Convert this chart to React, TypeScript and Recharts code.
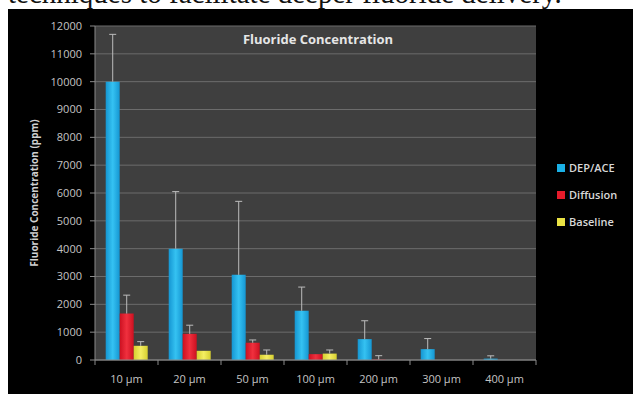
import React from 'react';
import { BarChart, Bar, XAxis, YAxis, CartesianGrid, ErrorBar, Legend } from 'recharts';

const categories = ['10 µm', '20 µm', '50 µm', '100 µm', '200 µm', '300 µm', '400 µm'];
const depAce = [10000, 4000, 3060, 1770, 750, 390, 50];
const depAceErr = [1700, 2050, 2640, 850, 660, 380, 100];
const diffusion = [1670, 940, 620, 210, 15, 0, 0];
const diffusionErr = [660, 310, 100, null, 140, null, null];
const baseline = [510, 330, 190, 230, 0, 0, 0];
const baselineErr = [150, null, 170, 130, null, null, null];
const yTicks = [0, 1000, 2000, 3000, 4000, 5000, 6000, 7000, 8000, 9000, 10000, 11000, 12000];

const seriesNames = ['DEP/ACE', 'Diffusion', 'Baseline'];
const seriesColors = ['#1ab0e6', '#e41b2b', '#e9e244'];

const data = categories.map((c, i) => ({
  name: c,
  dep: depAce[i],
  depErr: depAceErr[i] == null ? null : [0, depAceErr[i]],
  dif: diffusion[i],
  difErr: diffusionErr[i] == null ? null : [0, diffusionErr[i]],
  base: baseline[i],
  baseErr: baselineErr[i] == null ? null : [0, baselineErr[i]],
}));

const FONT = '"Open Sans", "Liberation Sans", sans-serif';

const XTick = (props: any) => {
  const { x, y, payload, index, visibleTicksCount } = props;
  const half = payload && payload.offset ? payload.offset : 31.5;
  const last = index === visibleTicksCount - 1;
  return (
    <g>
      <line x1={x - half} y1={y} x2={x - half} y2={y + 5} stroke="#8a8a8a" strokeWidth={1} />
      {last && <line x1={x + half} y1={y} x2={x + half} y2={y + 5} stroke="#8a8a8a" strokeWidth={1} />}
      <text x={x} y={y + 23} textAnchor="middle" fill="#c4c4c4" fontSize={11} fontFamily={FONT}>
        {payload.value}
      </text>
    </g>
  );
};

const LegendContent = () => (
  <div style={{ fontFamily: FONT }}>
    {seriesNames.map((n, i) => (
      <div key={n} style={{ display: 'flex', alignItems: 'center', height: 27 }}>
        <span style={{ width: 8, height: 8, background: seriesColors[i], display: 'inline-block', marginRight: 4 }} />
        <span style={{ color: '#d8d8d8', fontSize: 11, fontWeight: 600 }}>{n}</span>
      </div>
    ))}
  </div>
);

const YLabel = (props: any) => {
  const vb = props.viewBox || { x: 0, y: 17, width: 87, height: 334 };
  const cx = 26;
  const cy = vb.y + vb.height / 2;
  return (
    <text
      x={cx}
      y={cy}
      transform={`rotate(-90, ${cx}, ${cy})`}
      textAnchor="middle"
      dominantBaseline="central"
      fill="#d0d0d0"
      fontSize={10}
      fontWeight={700}
      fontFamily={FONT}
    >
      Fluoride Concentration (ppm)
    </text>
  );
};

export default function App() {
  return (
    <div style={{ position: 'absolute', left: 0, top: 0, width: 633, height: 394, overflow: 'hidden', background: '#fff' }}>
      <style>{`.recharts-errorBar > :nth-child(3){display:none}`}</style>
      <div
        style={{
          position: 'absolute',
          left: 8,
          top: -21,
          fontFamily: '"Liberation Serif", "Times New Roman", serif',
          fontSize: 29,
          lineHeight: '29px',
          whiteSpace: 'nowrap',
          color: '#111',
        }}
      >
        techniques to facilitate deeper fluoride delivery.
      </div>
      <div style={{ position: 'absolute', left: 8, top: 9, width: 625, height: 385, background: '#000' }}>
        <BarChart
          width={625}
          height={385}
          data={data}
          margin={{ top: 17, right: 97, bottom: 4, left: 0 }}
          barCategoryGap="17%"
          barGap={0}
        >
          <defs>
            <linearGradient id="gBlue" x1="0" y1="0" x2="1" y2="0">
              <stop offset="0%" stopColor="#1596d2" />
              <stop offset="50%" stopColor="#35c2f2" />
              <stop offset="100%" stopColor="#1596d2" />
            </linearGradient>
            <linearGradient id="gRed" x1="0" y1="0" x2="1" y2="0">
              <stop offset="0%" stopColor="#cc1020" />
              <stop offset="50%" stopColor="#f0303e" />
              <stop offset="100%" stopColor="#cc1020" />
            </linearGradient>
            <linearGradient id="gYellow" x1="0" y1="0" x2="1" y2="0">
              <stop offset="0%" stopColor="#d6cf30" />
              <stop offset="50%" stopColor="#f4ee62" />
              <stop offset="100%" stopColor="#d6cf30" />
            </linearGradient>
          </defs>
          <CartesianGrid vertical={false} stroke="#6c6c6c" fill="#3f3f3f" />
          <XAxis
            dataKey="name"
            height={30}
            tickLine={false}
            tickSize={0}
            tickMargin={0}
            stroke="#8a8a8a"
            tick={<XTick />}
            interval={0}
          />
          <YAxis
            width={87}
            domain={[0, 12000]}
            ticks={yTicks}
            interval={0}
            stroke="#8a8a8a"
            tickSize={5}
            tickMargin={8}
            tick={{ fill: '#c4c4c4', fontSize: 11, fontFamily: FONT }}
            label={<YLabel />}
          />
          <Legend
            layout="horizontal"
            verticalAlign="middle"
            align="center"
            content={<LegendContent />}
            wrapperStyle={{ left: 549, top: 145, width: 76 }}
          />
          <Bar dataKey="dep" name={seriesNames[0]} fill="url(#gBlue)" isAnimationActive={false}>
            <ErrorBar dataKey="depErr" direction="y" width={3.5} stroke="#bcbcbc" strokeWidth={1} isAnimationActive={false} />
          </Bar>
          <Bar dataKey="dif" name={seriesNames[1]} fill="url(#gRed)" isAnimationActive={false}>
            <ErrorBar dataKey="difErr" direction="y" width={3.5} stroke="#bcbcbc" strokeWidth={1} isAnimationActive={false} />
          </Bar>
          <Bar dataKey="base" name={seriesNames[2]} fill="url(#gYellow)" isAnimationActive={false}>
            <ErrorBar dataKey="baseErr" direction="y" width={3.5} stroke="#bcbcbc" strokeWidth={1} isAnimationActive={false} />
          </Bar>
        </BarChart>
      </div>
      <div
        style={{
          position: 'absolute',
          left: 318,
          top: 39,
          transform: 'translate(-50%, -50%)',
          color: '#e6e6e6',
          fontFamily: FONT,
          fontSize: 13,
          fontWeight: 700,
          whiteSpace: 'nowrap',
        }}
      >
        Fluoride Concentration
      </div>
    </div>
  );
}
